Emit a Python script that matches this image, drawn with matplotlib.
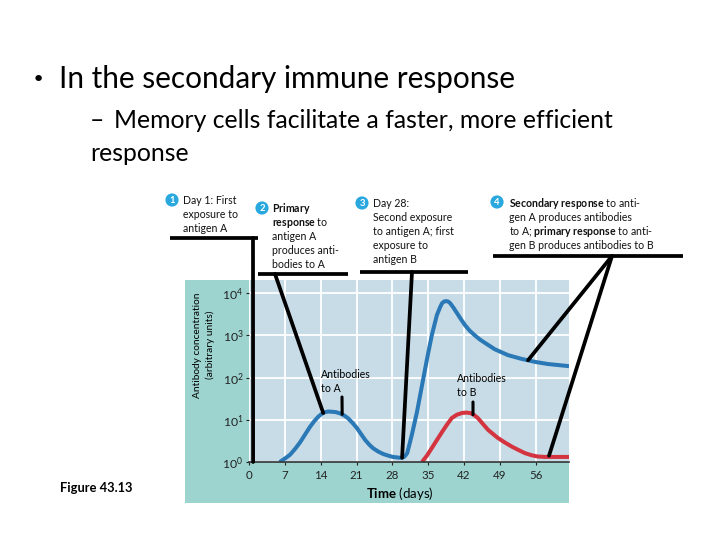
import matplotlib.pyplot as plt
import numpy as np
from matplotlib.patches import ConnectionPatch

plt.rcParams['font.family'] = ['Lato', 'DejaVu Sans']
plt.rcParams['mathtext.fontset'] = 'custom'
plt.rcParams['mathtext.rm'] = 'Lato'
plt.rcParams['mathtext.bf'] = 'Lato:bold'
plt.rcParams['mathtext.it'] = 'Lato:italic'

# Antibodies to A (days, log10 concentration)
days_a = [6.0, 7.0, 8.0, 9.0, 10.0, 11.0, 11.9, 12.7, 13.5, 14.2, 14.8, 15.5, 16.2, 17.0, 17.8,
          18.6, 19.3, 20.2, 21.1, 21.9, 22.7, 23.5, 24.2, 25.2, 26.2, 27.2, 28.1, 28.8, 29.5,
          29.9, 30.4, 30.9, 31.8, 32.8, 33.8, 34.8, 35.7, 36.7, 37.3, 37.7, 38.1, 38.5, 38.9,
          39.3, 39.9, 40.6, 41.4, 42.2, 43.1, 44.1, 45.1, 46.1, 48.0, 50.6, 53.3, 55.9, 58.4, 62.5]
log_a = [0.0, 0.08, 0.17, 0.31, 0.47, 0.66, 0.83, 0.96, 1.07, 1.14, 1.18, 1.195, 1.19, 1.18, 1.15,
         1.10, 1.04, 0.93, 0.80, 0.66, 0.52, 0.41, 0.33, 0.25, 0.19, 0.15, 0.12, 0.11, 0.10,
         0.10, 0.13, 0.21, 0.64, 1.18, 1.82, 2.46, 3.00, 3.48, 3.66, 3.76, 3.80, 3.81, 3.80,
         3.76, 3.66, 3.53, 3.38, 3.24, 3.11, 3.00, 2.90, 2.82, 2.67, 2.53, 2.44, 2.37, 2.32, 2.27]

# Antibodies to B
days_b = [33.8, 34.8, 35.7, 36.7, 37.7, 38.7, 39.6, 40.6, 41.6, 42.4, 43.2, 44.0, 44.7, 45.7,
          46.7, 47.7, 48.6, 50.0, 51.4, 52.7, 53.9, 55.2, 56.4, 57.8, 59.2, 62.5]
log_b = [0.0, 0.16, 0.33, 0.52, 0.71, 0.89, 1.04, 1.12, 1.16, 1.17, 1.16, 1.11, 1.04, 0.90,
         0.76, 0.66, 0.57, 0.46, 0.36, 0.28, 0.21, 0.16, 0.13, 0.12, 0.12, 0.12]

x_ticks = [0, 7, 14, 21, 28, 35, 42, 49, 56]
y_ticks = [1, 10, 100, 1000, 10000]
y_labels = ['$10^{0}$', '$10^{1}$', '$10^{2}$', '$10^{3}$', '$10^{4}$']

conc_a = 10 ** np.array(log_a)
conc_b = 10 ** np.array(log_b)

W, H = 720, 540
fig = plt.figure(figsize=(7.2, 5.4), dpi=100)


def fx(px):
    return px / W


def fy(py):
    return 1 - py / H


teal = '#9dd4cf'
blue = '#2a79b6'
red = '#d3343f'

# teal panel behind the chart
panel = fig.add_axes([fx(185), fy(503), fx(569) - fx(185), fy(280) - fy(503)], zorder=-1)
panel.set_facecolor(teal)
panel.set_xticks([])
panel.set_yticks([])
for s in panel.spines.values():
    s.set_visible(False)

ax = fig.add_axes([fx(249), fy(462), fx(569) - fx(249), fy(280) - fy(462)], zorder=1)
ax.set_facecolor('#c7dce6')
ax.set_yscale('log')
ax.set_xlim(0, 62.5)
ax.set_ylim(1, 10 ** 4.31)
ax.set_xticks(x_ticks)
ax.set_xticklabels([str(t) for t in x_ticks])
ax.set_yticks(y_ticks)
ax.set_yticklabels(y_labels)
ax.minorticks_off()
ax.grid(True, color='white', lw=1.3)
ax.set_axisbelow(True)
for s in ['top', 'right', 'left']:
    ax.spines[s].set_visible(False)
ax.spines['bottom'].set_color('#333333')
ax.spines['bottom'].set_linewidth(1.2)
ax.tick_params(axis='x', length=2.5, pad=3, labelsize=8.3, colors='#222222')
ax.tick_params(axis='y', length=2.5, pad=1.5, labelsize=8.8, colors='#222222')

ax.plot(days_a, conc_a, color=blue, lw=2.9, solid_joinstyle='round', solid_capstyle='butt')
ax.plot(days_b, conc_b, color=red, lw=2.9, solid_joinstyle='round', solid_capstyle='butt')

# overlay in pixel coordinates for slide text and leaders
ov = fig.add_axes([0, 0, 1, 1], zorder=5)
ov.set_xlim(0, W)
ov.set_ylim(H, 0)
ov.axis('off')
ov.patch.set_alpha(0)

ov.text(32, 86, '•', fontsize=16, va='baseline', family='DejaVu Sans')
ov.text(59, 88, 'In the secondary immune response', fontsize=21.4, va='baseline')
ov.text(90, 128, '–', fontsize=17.8, va='baseline')
ov.text(114, 128, 'Memory cells facilitate a faster, more efficient', fontsize=17.8, va='baseline')
ov.text(90, 161, 'response', fontsize=17.8, va='baseline')
ov.text(60, 492, 'Figure 43.13', fontsize=9.3, fontweight='bold', va='baseline')

fs = 7.6
ann = [
    (183, [204, 218, 232], ['Day 1: First', 'exposure to', 'antigen A']),
    (272, [212, 226, 240, 254, 268], [r'$\bf{Primary}$', r'$\bf{response}$ to', 'antigen A',
                                      'produces anti-', 'bodies to A']),
    (373, [207, 221, 235, 249, 263], ['Day 28:', 'Second exposure', 'to antigen A; first',
                                      'exposure to', 'antigen B']),
    (509, [207, 221, 235, 249], [r'$\bf{Secondary\ response}$ to anti-', 'gen A produces antibodies',
                                 r'to A; $\bf{primary\ response}$ to anti-', 'gen B produces antibodies to B']),
]
for x0, ys, lines in ann:
    for yb, line in zip(ys, lines):
        ov.text(x0, yb, line, fontsize=fs, va='baseline', color='#111111')

circles = [(172, 200, '1'), (262, 208, '2'), (362, 203, '3'), (497, 202, '4')]
for cx, cy, n in circles:
    ov.scatter([cx], [cy], s=90, color='#29a8df', edgecolors='none', zorder=6)
    ov.text(cx, cy + 0.5, n, fontsize=6.8, fontweight='bold', color='white', ha='center', va='center', zorder=7)

# horizontal leader bars
lw_lead = 2.7
for xa, xb, yy in [(170, 258, 238), (258, 348, 274), (360, 468, 272), (493, 683, 256)]:
    ov.plot([xa, xb], [yy, yy], color='black', lw=lw_lead, solid_capstyle='butt')


def leader(px, py, day, val, lw=lw_lead):
    cp = ConnectionPatch(xyA=(px, py), coordsA=ov.transData, xyB=(day, val), coordsB=ax.transData,
                         color='black', lw=lw, zorder=8)
    fig.add_artist(cp)


leader(253, 238, 0.8, 1.0)
leader(275, 274, 14.5, 10 ** 1.16)
leader(412, 272, 29.9, 10 ** 0.1)
leader(612, 256, 54.5, 10 ** 2.41)
leader(612, 256, 58.6, 10 ** 0.15)
leader(342, 397, 18.2, 10 ** 1.13, lw=2.2)
leader(473, 402, 43.75, 10 ** 1.12, lw=2.2)

ov.text(321, 378, 'Antibodies', fontsize=fs, va='baseline')
ov.text(321, 392, 'to A', fontsize=fs, va='baseline')
ov.text(457, 382, 'Antibodies', fontsize=fs, va='baseline')
ov.text(457, 396, 'to B', fontsize=fs, va='baseline')

ov.text(197, 345, 'Antibody concentration', fontsize=7.3, rotation=90, ha='center', va='center')
ov.text(210, 345, '(arbitrary units)', fontsize=7.3, rotation=90, ha='center', va='center')
ov.text(400, 498, r'$\bf{Time}$ (days)', fontsize=9.5, ha='center', va='baseline')

fig.savefig('out.png', dpi=100)
